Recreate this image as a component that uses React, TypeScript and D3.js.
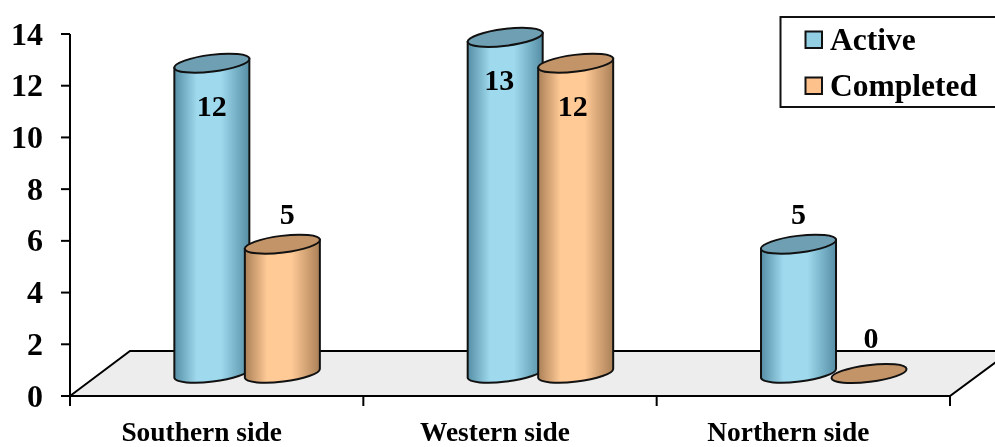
import React from "react";
import * as d3 from "d3";

const categories = ["Southern side", "Western side", "Northern side"];
const seriesNames = ["Active", "Completed"];
const active = [12, 13, 5];
const completed = [5, 12, 0];
const yTicks = [0, 2, 4, 6, 8, 10, 12, 14];

const W = 995, H = 447;
const axisX = 70, axisRight = 950, y0 = 396, y14 = 34;
const floorBackY = 351, floorBackX = 130, baseY = 373.5;
const rx = 37.8, ry = 8.4, tilt = -7, dxE = 37.5, dyE = 4.6;
const serif = "'Liberation Serif', 'Times New Roman', serif";

const colors: Record<string, { id: string; edge: string; mid: string; top: string; swatch: string }> = {
  Active: { id: "gA", edge: "#568fa5", mid: "#9ed9ee", top: "#6f9fb3", swatch: "#93cfe3" },
  Completed: { id: "gC", edge: "#ab8057", mid: "#ffca96", top: "#c49469", swatch: "#fdc28c" },
};

export default function App() {
  const yAxis = d3.scaleLinear().domain([0, 14]).range([y0, y14]);
  const x = d3.scaleBand<string>().domain(categories).range([axisX, axisRight]);
  const xs = d3.scaleBand<string>().domain(seriesNames).range([106.6, 247.6]);
  const unit = y0 - yAxis(1);
  const topOf = (v: number) => baseY - v * unit;
  const edges = [axisX, ...categories.map((c) => (x(c) as number) + x.bandwidth())];

  const rows = seriesNames.flatMap((s, si) =>
    categories.map((c, ci) => ({
      s,
      c,
      si,
      ci,
      v: si === 0 ? active[ci] : completed[ci],
      cx: (x(c) as number) + (xs(s) as number) + xs.bandwidth() / 2,
    }))
  );
  const order = categories.flatMap((c) => rows.filter((r) => r.c === c));

  const labelDy = (v: number) => (v >= 10 ? 52.5 : v === 0 ? -26 : -20);
  const labelDx = (r: { si: number; v: number }) =>
    r.v >= 10 ? (r.v === 13 ? -6 : r.si === 1 ? -3 : 0) : r.v === 0 ? 2 : r.si === 1 ? 5 : 0;

  return (
    <svg
      width={W}
      height={H}
      viewBox={`0 0 ${W} ${H}`}
      style={{ position: "absolute", left: 0, top: 0, display: "block", background: "#fff", filter: "blur(0.4px)" }}
    >
      <defs>
        {seriesNames.map((s) => (
          <linearGradient key={s} id={colors[s].id} x1="0" x2="1" y1="0" y2="0">
            <stop offset="0" stopColor={colors[s].edge} />
            <stop offset="0.3" stopColor={colors[s].mid} />
            <stop offset="0.62" stopColor={colors[s].mid} />
            <stop offset="1" stopColor={colors[s].edge} />
          </linearGradient>
        ))}
      </defs>

      {/* floor */}
      <path
        d={`M${axisX},${y0} L${floorBackX},${floorBackY} L${W + 5},${floorBackY} L${W + 5},${floorBackY + 8} L${axisRight},${y0} Z`}
        fill="#ededed"
        stroke="none"
      />
      <path
        d={`M${axisX},${y0} L${floorBackX},${floorBackY} L${W + 5},${floorBackY}`}
        fill="none"
        stroke="#000"
        strokeWidth={2}
      />
      <path
        d={`M${axisX},${y0} L${axisRight},${y0} L${W + 5},${floorBackY + 8}`}
        fill="none"
        stroke="#000"
        strokeWidth={2}
      />

      {/* value axis */}
      <line x1={axisX} x2={axisX} y1={y14} y2={y0 + 10} stroke="#000" strokeWidth={2} />
      {yTicks.map((t) => (
        <g key={t}>
          <line x1={61} x2={axisX} y1={yAxis(t)} y2={yAxis(t)} stroke="#000" strokeWidth={2} />
          <text
            x={43}
            y={yAxis(t) + 10.5}
            textAnchor="end"
            fontFamily={serif}
            fontWeight="bold"
            fontSize={32}
            fill="#000"
          >
            {t}
          </text>
        </g>
      ))}

      {/* category axis */}
      {edges.slice(1).map((e) => (
        <line key={e} x1={e} x2={e} y1={y0} y2={y0 + 10} stroke="#000" strokeWidth={2} />
      ))}
      {categories.map((c) => (
        <text
          key={c}
          x={(x(c) as number) + x.bandwidth() / 2 - 15}
          y={441}
          textAnchor="middle"
          fontFamily={serif}
          fontWeight="bold"
          fontSize={27.4}
          fill="#000"
        >
          {c}
        </text>
      ))}

      {/* cylinders */}
      {order.map((r) => {
        const top = topOf(r.v);
        const col = colors[r.s];
        const l = r.cx - dxE, R = r.cx + dxE;
        const side =
          `M${l},${top + dyE} L${l},${baseY + dyE} ` +
          `A${rx},${ry} ${tilt} 0 0 ${R},${baseY - dyE} ` +
          `L${R},${top - dyE} Z`;
        return (
          <g key={r.s + r.c}>
            {r.v > 0 && (
              <path d={side} fill={`url(#${col.id})`} stroke="#111" strokeWidth={2} />
            )}
            <ellipse
              cx={r.cx}
              cy={top}
              rx={rx}
              ry={ry}
              transform={`rotate(${tilt} ${r.cx} ${top})`}
              fill={col.top}
              stroke="#111"
              strokeWidth={2}
            />
          </g>
        );
      })}

      {/* data labels */}
      {order.map((r) => (
        <text
          key={"l" + r.s + r.c}
          x={r.cx + labelDx(r)}
          y={topOf(r.v) + labelDy(r.v)}
          textAnchor="middle"
          fontFamily={serif}
          fontWeight="bold"
          fontSize={30}
          fill="#000"
        >
          {r.v}
        </text>
      ))}

      {/* legend */}
      <rect x={780.5} y={17} width={W} height={90} fill="#fff" stroke="#111" strokeWidth={2} />
      {seriesNames.map((s, i) => (
        <g key={s}>
          <rect
            x={805.5}
            y={31.5 + i * 46}
            width={16.5}
            height={16.5}
            fill={colors[s].swatch}
            stroke="#111"
            strokeWidth={2}
          />
          <text
            x={830}
            y={50 + i * 45.5}
            fontFamily={serif}
            fontWeight="bold"
            fontSize={31.5}
            fill="#000"
          >
            {s}
          </text>
        </g>
      ))}
    </svg>
  );
}
